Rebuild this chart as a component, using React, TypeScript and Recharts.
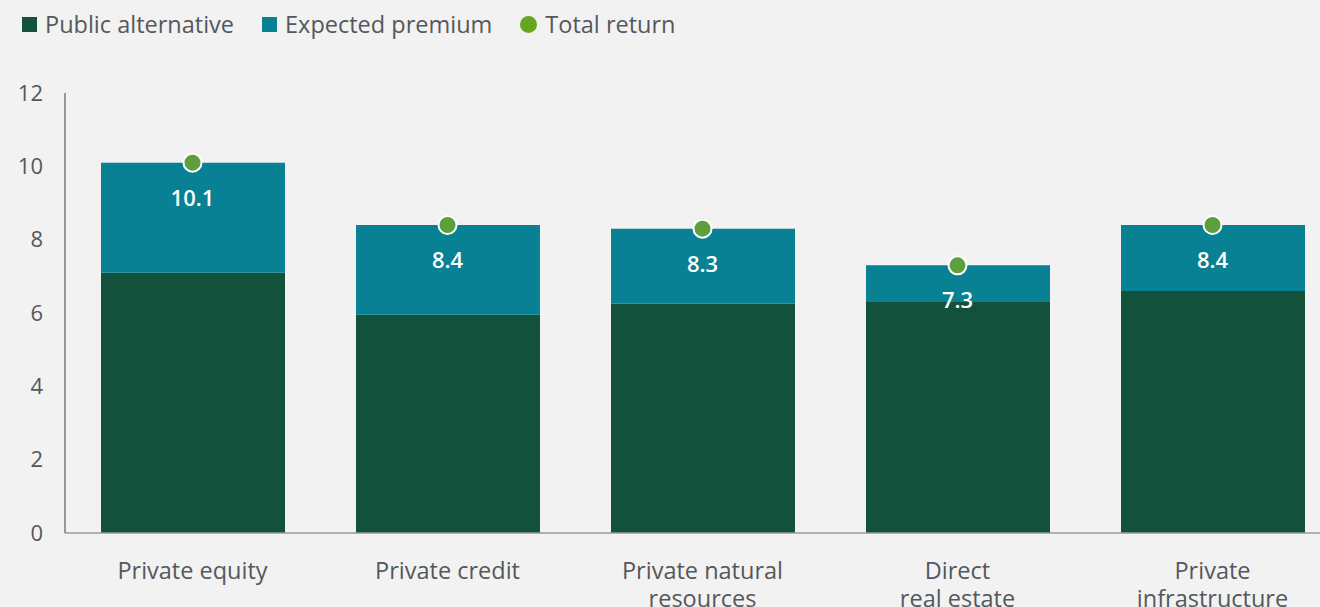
import React from "react";
import { ComposedChart, Bar, Line, XAxis, YAxis, LabelList } from "recharts";

const categories = [
  "Private equity",
  "Private credit",
  "Private natural\nresources",
  "Direct\nreal estate",
  "Private\ninfrastructure",
];
const publicAlternative = [7.1, 5.95, 6.25, 6.3, 6.6];
const expectedPremium = [3.0, 2.45, 2.05, 1.0, 1.8];
const totalReturn = [10.1, 8.4, 8.3, 7.3, 8.4];
const yTicks = [0, 2, 4, 6, 8, 10, 12];

const data = categories.map((c, i) => ({
  name: c,
  publicAlt: publicAlternative[i],
  premium: expectedPremium[i],
  total: totalReturn[i],
}));

const DARK = "#12523d";
const TEAL = "#078193";
const DOT = "#5e9f3d";
const LEGEND_DOT = "#66a61e";
const TEXT = "#54585c";
const FONT = "'Open Sans', sans-serif";

const XTick = (props: any) => {
  const { x, y, payload } = props;
  const lines = String(payload.value).split("\n");
  return (
    <text x={x} y={y + 38} textAnchor="middle" fill={TEXT} fontSize={23.5} fontFamily={FONT}>
      {lines.map((l, i) => (
        <tspan key={i} x={x} dy={i === 0 ? 0 : 28}>
          {l}
        </tspan>
      ))}
    </text>
  );
};

const LegendBlock = () => {
  const items = [
    { label: "Public alternative", color: DARK, type: "square" },
    { label: "Expected premium", color: TEAL, type: "square" },
    { label: "Total return", color: LEGEND_DOT, type: "circle" },
  ];
  return (
    <div
      style={{
        position: "absolute",
        left: 22,
        top: 9,
        height: 30,
        display: "flex",
        alignItems: "center",
        fontFamily: FONT,
        fontSize: 23.5,
        color: TEXT,
        whiteSpace: "nowrap",
      }}
    >
      {items.map((it, i) => (
        <div key={i} style={{ display: "flex", alignItems: "center", marginRight: 28 }}>
          <span
            style={{
              display: "inline-block",
              width: it.type === "circle" ? 17 : 15,
              height: it.type === "circle" ? 17 : 15,
              borderRadius: it.type === "circle" ? "50%" : 0,
              background: it.color,
              marginRight: 8,
            }}
          />
          <span>{it.label}</span>
        </div>
      ))}
    </div>
  );
};

const TotalLabel = (props: any) => {
  const { x, y, value } = props;
  return (
    <text
      x={x}
      y={y + 34}
      textAnchor="middle"
      dominantBaseline="central"
      fill="#ffffff"
      fontSize={22}
      fontWeight={600}
      fontFamily={FONT}
    >
      {Number(value).toFixed(1)}
    </text>
  );
};

export default function App() {
  return (
    <div
      style={{
        position: "absolute",
        left: 0,
        top: 0,
        width: 1320,
        height: 607,
        overflow: "hidden",
        background: "#f2f2f2",
      }}
    >
      <LegendBlock />
      <ComposedChart
        width={1340}
        height={607}
        data={data}
        margin={{ top: 93, right: 0, left: 0, bottom: 0 }}
      >
        <XAxis
          dataKey="name"
          tick={<XTick />}
          tickLine={false}
          axisLine={{ stroke: "#9a9a9a", strokeWidth: 1.5 }}
          height={74}
          interval={0}
        />
        <YAxis
          domain={[0, 12]}
          ticks={yTicks}
          width={65}
          tickLine={false}
          axisLine={{ stroke: "#777", strokeWidth: 1.5 }}
          tick={{ fill: TEXT, fontSize: 22, fontFamily: FONT }}
          tickMargin={16}
        />
        <Bar dataKey="publicAlt" stackId="a" fill={DARK} barSize={184} isAnimationActive={false} />
        <Bar dataKey="premium" stackId="a" fill={TEAL} barSize={184} isAnimationActive={false} />
        <Line
          dataKey="total"
          stroke="none"
          isAnimationActive={false}
          dot={{ r: 9, fill: DOT, stroke: "#ffffff", strokeWidth: 2 }}
          activeDot={false}
        >
          <LabelList dataKey="total" content={<TotalLabel />} />
        </Line>
      </ComposedChart>
    </div>
  );
}
